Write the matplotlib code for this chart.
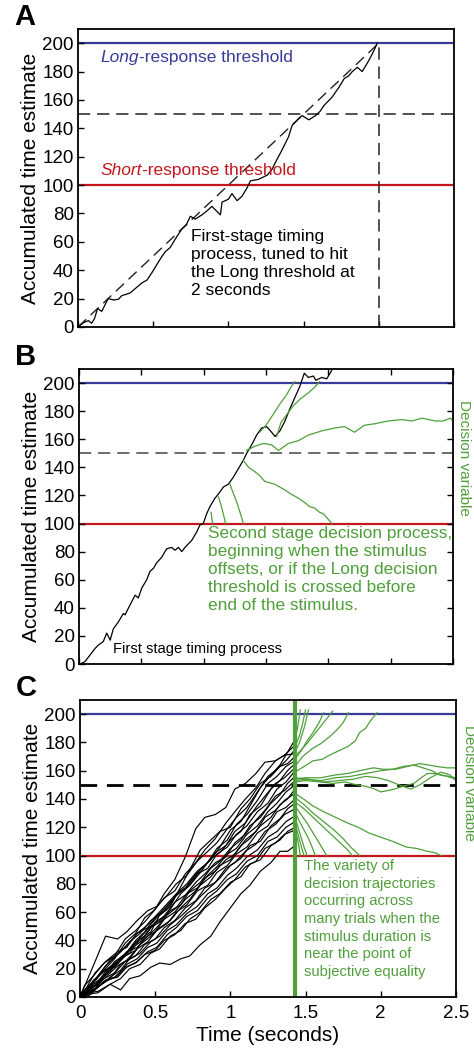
import matplotlib
matplotlib.use("Agg")
import matplotlib.pyplot as plt

plt.rcParams['font.family'] = ['Liberation Sans', 'DejaVu Sans']

BLUE = '#3a3a98'
RED = '#c4161c'
GREEN = '#4f9f3a'

# ---- panel A : first stage timing process
a_t = [0, 0.007, 0.036, 0.069, 0.09, 0.11, 0.13, 0.158, 0.2, 0.24, 0.27, 0.29, 0.31, 0.347,
       0.38, 0.424, 0.458, 0.49, 0.536, 0.56, 0.58, 0.613, 0.647, 0.69, 0.72, 0.747, 0.78,
       0.824, 0.86, 0.89, 0.947, 0.958, 1.0, 1.024, 1.058, 1.09, 1.124, 1.147, 1.2, 1.258,
       1.29, 1.313, 1.358, 1.4, 1.424, 1.46, 1.49, 1.535, 1.58, 1.61, 1.635, 1.69, 1.736,
       1.77, 1.8, 1.824, 1.858, 1.89, 1.935, 1.969, 1.99]
a_y = [0, 0.7, 3, 4.5, 2.6, 6, 13, 11, 20, 19, 19.6, 22, 22.7, 24, 27, 31, 33, 38, 46, 50,
       53, 56, 62, 69, 72, 78, 76, 79, 82, 85, 79, 88, 90, 94, 89, 92, 98, 103, 104, 107,
       111, 116, 125, 134, 142, 146, 149, 146, 149, 152, 156, 162, 169, 175, 177, 180, 183,
       180, 188, 195, 200]

# ---- panel B : first stage plus a few second stage decision processes
b_t = [0.008, 0.048, 0.088, 0.128, 0.155, 0.195, 0.222, 0.25, 0.275, 0.316, 0.356, 0.369,
       0.409, 0.45, 0.476, 0.503, 0.543, 0.57, 0.596, 0.623, 0.663, 0.703, 0.743, 0.77,
       0.797, 0.824, 0.85, 0.904, 0.944, 0.97, 0.997, 1.024, 1.05, 1.09, 1.118, 1.158,
       1.198, 1.238, 1.278, 1.318, 1.345, 1.385, 1.425, 1.465, 1.505, 1.545, 1.572, 1.612,
       1.652, 1.693, 1.733, 1.773, 1.807, 1.84, 1.88, 1.9, 1.947, 1.987, 2.027, 2.05]
b_y = [0, 1.7, 6.4, 11, 13.5, 16, 22, 17, 25, 30, 36, 35, 42, 49, 47, 54, 60, 66, 68, 72,
       76, 82, 83, 81, 83, 80, 83, 88, 94, 99, 100, 107, 112, 118, 121, 126, 128, 133, 139,
       145, 150, 156, 163, 168, 169, 165, 162, 166, 173, 182, 190, 198, 207, 204, 205, 202,
       204, 203, 209, 215]

b_green_t = [
    [1.06, 1.065, 1.072],
    [1.118, 1.14, 1.16, 1.176],
    [1.211, 1.24, 1.27, 1.295, 1.318],
    [1.318, 1.36, 1.41, 1.45, 1.49, 1.53, 1.57, 1.61, 1.65, 1.7, 1.76, 1.81, 1.85, 1.89,
     1.93, 1.96, 2.0, 2.027],
    [1.345, 1.41, 1.48, 1.545, 1.6, 1.68, 1.76, 1.84, 1.95, 2.05, 2.13, 2.21, 2.29, 2.37,
     2.48, 2.59, 2.67, 2.75, 2.86, 2.92, 2.98, 3.0],
    [1.45, 1.5, 1.56, 1.61, 1.66, 1.7, 1.73],
    [1.585, 1.62, 1.67, 1.72, 1.78, 1.84, 1.89, 1.93],
]
b_green_y = [
    [108, 104, 100],
    [119, 113, 106, 100],
    [128, 121, 114, 107, 100],
    [145, 140, 137, 134, 130, 129, 128, 126, 124, 121, 118, 115, 112, 111, 108, 107, 103, 100],
    [152, 155, 157, 156, 152, 157, 159, 163, 166, 168, 169, 165, 170, 171, 173, 174, 173,
     175, 173, 173, 175, 173],
    [165, 170, 178, 185, 191, 197, 201],
    [162, 172, 178, 184, 189, 193, 197, 201],
]

# ---- panel C : many trials, stimulus offset at 1.43 s
offset = 1.43
c_t1 = [0, .06, .12, .2, .27, .33, .4, .47, .53, .6, .67, .73, .8, .87, .93, 1.0, 1.07,
        1.13, 1.2, 1.27, 1.33, 1.38, 1.43]
c_t2 = [0, .03, .09, .16, .23, .3, .37, .43, .5, .56, .63, .7, .77, .83, .9, .97, 1.03,
        1.1, 1.17, 1.23, 1.3, 1.36, 1.43]
c_t3 = [0, .04, .1, .17, .25, .31, .38, .45, .51, .58, .64, .71, .78, .85, .91, .98, 1.04,
        1.11, 1.18, 1.25, 1.31, 1.37, 1.43]
c_black1 = [
    [0, 5, 10, 19, 28, 33, 42, 50, 54, 62, 73, 79, 90, 97, 106, 118, 124, 135, 148, 157, 164, 173, 182],
    [0, 4, 11, 18, 27, 31, 41, 46, 58, 64, 78, 90, 104, 111, 117, 120, 133, 140, 151, 156, 163, 165, 170],
    [0, 7, 15, 26, 32, 39, 45, 54, 59, 67, 75, 79, 88, 98, 102, 111, 117, 129, 135, 147, 153, 160, 165],
    [0, 5, 9, 21, 26, 33, 39, 49, 53, 61, 65, 75, 81, 91, 96, 105, 111, 121, 127, 137, 143, 151, 156],
    [0, 1, 7, 13, 23, 27, 37, 43, 49, 54, 63, 69, 79, 85, 93, 97, 107, 112, 121, 127, 136, 140, 147],
    [0, 4, 7, 14, 19, 27, 31, 39, 43, 51, 57, 63, 71, 78, 84, 93, 98, 107, 110, 121, 126, 133, 137],
    [0, 2, 3, 9, 13, 20, 23, 31, 34, 43, 47, 55, 60, 69, 73, 81, 85, 94, 97, 107, 111, 117, 120],
    [0, 3, 4, 9, 5, 13, 15, 21, 24, 23, 27, 29, 37, 43, 53, 63, 73, 79, 89, 95, 103, 103, 107],
]
c_black2 = [
    [0, 8, 15, 24, 29, 41, 47, 53, 62, 70, 75, 87, 95, 104, 112, 123, 131, 140, 148, 158, 167, 171, 178],
    [0, 3, 10, 19, 27, 38, 45, 56, 62, 73, 83, 99, 119, 127, 129, 134, 147, 151, 158, 166, 167, 171, 172],
    [0, 2, 9, 15, 25, 30, 40, 46, 56, 61, 71, 77, 87, 93, 102, 107, 117, 123, 134, 142, 151, 155, 162],
    [0, 2, 12, 18, 24, 29, 39, 43, 53, 57, 67, 72, 81, 87, 95, 99, 109, 115, 125, 132, 142, 146, 153],
    [0, 5, 11, 19, 21, 29, 33, 42, 46, 55, 60, 69, 75, 84, 89, 97, 101, 111, 117, 127, 132, 139, 144],
    [0, 2, 5, 13, 17, 25, 29, 37, 41, 49, 54, 63, 68, 77, 81, 91, 95, 103, 108, 117, 122, 129, 133],
    [0, 1, 5, 11, 14, 21, 24, 30, 33, 40, 44, 52, 55, 63, 69, 77, 83, 92, 96, 105, 109, 115, 118],
]
c_black3 = [
    [0, 10, 25, 43, 41, 46, 54, 61, 64, 72, 80, 86, 96, 103, 109, 119, 127, 134, 145, 156, 161, 167, 175],
    [0, 6, 12, 22, 30, 36, 45, 51, 58, 66, 73, 80, 89, 95, 105, 111, 122, 129, 139, 151, 156, 163, 167],
    [0, 6, 17, 25, 32, 35, 45, 49, 56, 62, 72, 78, 87, 91, 101, 106, 115, 121, 131, 137, 147, 152, 160],
    [0, 6, 8, 18, 24, 32, 35, 43, 49, 58, 63, 73, 77, 86, 92, 101, 105, 115, 121, 131, 137, 145, 150],
    [0, 3, 8, 14, 22, 26, 34, 39, 47, 52, 60, 65, 75, 79, 88, 93, 101, 106, 116, 121, 131, 134, 140],
    [0, 3, 6, 11, 15, 23, 27, 35, 38, 47, 51, 59, 64, 73, 77, 86, 91, 99, 104, 113, 117, 124, 128],
    [0, 1, 5, 12, 14, 21, 25, 32, 35, 44, 49, 57, 61, 70, 75, 83, 87, 96, 100, 110, 113, 120, 124],
]

c_green_t = [
    [1.43, 1.45, 1.465],
    [1.43, 1.46, 1.48, 1.5],
    [1.43, 1.46, 1.49, 1.52],
    [1.43, 1.47, 1.51, 1.55, 1.59, 1.62],
    [1.43, 1.5, 1.56, 1.62, 1.68],
    [1.43, 1.48, 1.55, 1.6, 1.66, 1.71, 1.75, 1.785],
    [1.43, 1.49, 1.55, 1.61, 1.66, 1.72, 1.78, 1.83, 1.86, 1.9, 1.93, 1.975],
    [1.43, 1.5, 1.6, 1.7, 1.78, 1.86, 1.95, 2.02, 2.1, 2.18, 2.26, 2.32, 2.37, 2.44, 2.5],
    [1.43, 1.5, 1.6, 1.7, 1.8, 1.9, 2.0, 2.08, 2.15, 2.22, 2.28, 2.34, 2.39, 2.45, 2.5],
    [1.43, 1.5, 1.6, 1.68, 1.76, 1.84, 1.9, 1.96, 2.0, 2.05, 2.09, 2.15, 2.22, 2.27, 2.31,
     2.37, 2.44, 2.5],
    [1.43, 1.52, 1.62, 1.72, 1.82, 1.9, 1.98, 2.05, 2.12, 2.2, 2.26, 2.33, 2.4, 2.46, 2.5],
    [1.43, 1.5, 1.55, 1.62, 1.7, 1.78, 1.85, 1.92, 2.0, 2.08, 2.17, 2.24, 2.31, 2.36, 2.4],
    [1.43, 1.49, 1.55, 1.62, 1.69, 1.75, 1.8, 1.86],
    [1.43, 1.49, 1.55, 1.61, 1.66, 1.72, 1.78, 1.81],
    [1.43, 1.47, 1.51, 1.55, 1.59, 1.64],
    [1.43, 1.46, 1.49, 1.52, 1.54, 1.565],
    [1.43, 1.45, 1.47, 1.49, 1.51],
    [1.43, 1.45, 1.47, 1.49],
    [1.43, 1.45, 1.465],
]
c_green_y = [
    [182, 192, 203],
    [177, 185, 193, 203],
    [173, 180, 190, 203],
    [168, 174, 181, 187, 194, 201],
    [170, 178, 186, 194, 202],
    [163, 170, 176, 179, 184, 189, 194, 201],
    [159, 163, 167, 168, 171, 174, 177, 181, 187, 190, 195, 201],
    [154, 155, 155, 157, 158, 160, 162, 161, 161, 163, 165, 164, 163, 162, 162],
    [153, 154, 153, 155, 156, 158, 160, 161, 163, 164, 162, 160, 157, 156, 155],
    [152, 153, 152, 151, 152, 150, 149, 147, 145, 146, 147, 149, 151, 155, 158, 158, 156, 154],
    [155, 154, 152, 153, 154, 156, 155, 153, 150, 147, 150, 155, 159, 157, 153],
    [144, 139, 135, 131, 127, 123, 120, 116, 113, 110, 106, 105, 103, 102, 100],
    [141, 136, 130, 124, 118, 112, 106, 100],
    [138, 133, 127, 121, 116, 110, 104, 100],
    [135, 129, 123, 116, 109, 100],
    [131, 124, 118, 112, 107, 100],
    [127, 120, 113, 106, 100],
    [123, 115, 107, 100],
    [119, 110, 100],
]

fig = plt.figure(figsize=(4.74, 10.51), dpi=100)
axA = fig.add_axes([0.1646, 0.6889, 0.793, 0.2835])
axB = fig.add_axes([0.1667, 0.3682, 0.789, 0.2807])
axC = fig.add_axes([0.1688, 0.0514, 0.793, 0.2826])


def style(ax, xmax, xstep, labels, allsides=False):
    ax.set_xlim(0, xmax)
    ax.set_ylim(0, 210)
    ax.set_yticks(range(0, 201, 20))
    ax.set_xticks([i * xstep for i in range(int(round(xmax / xstep)) + 1)])
    ax.tick_params(direction='in', length=4, width=1, labelsize=13.5,
                   top=allsides, right=allsides, pad=3)
    ax.tick_params(axis='x', pad=6)
    if not labels:
        ax.set_xticklabels([])
    else:
        ax.set_xticklabels(['0', '0.5', '1', '1.5', '2', '2.5'])
    for s in ax.spines.values():
        s.set_linewidth(1.3)
    ax.set_ylabel('Accumulated time estimate', fontsize=15, labelpad=2)
    ax.axhline(200, color=BLUE, lw=1.6, zorder=1)
    ax.axhline(100, color=RED, lw=1.6, zorder=1)


def two_part(ax, x, y, first, rest, color, size):
    t = ax.text(x, y, first, color=color, style='italic', fontsize=size, va='center')
    fig.canvas.draw()
    w = t.get_window_extent().width * 72 / fig.dpi
    ax.annotate(rest, xy=(x, y), xytext=(w, 0), textcoords='offset points',
                color=color, fontsize=size, va='center')


# A
style(axA, 2.5, 0.5, False)
axA.axhline(150, color='#222222', lw=1.1, ls=(0, (8, 4.5)), zorder=1)
axA.plot([2, 2], [0, 200], color='#222222', lw=1.1, ls=(0, (8, 4.5)))
axA.plot([0, 2], [0, 200], color='#222222', lw=1.0, ls=(0, (8, 4.5)))
axA.plot(a_t, a_y, color='black', lw=0.9)
two_part(axA, 0.147, 190, 'Long', '-response threshold', BLUE, 12.5)
two_part(axA, 0.147, 110.5, 'Short', '-response threshold', RED, 12.5)
axA.text(0.753, 69, 'First-stage timing\nprocess, tuned to hit\nthe Long threshold at\n2 seconds',
         fontsize=12.5, va='top', linespacing=1.25)

# B
style(axB, 3.0, 0.5, False, allsides=True)
axB.axhline(150, color='#444444', lw=1.1, ls=(0, (8, 4.5)), zorder=1)
axB.plot(b_t, b_y, color='black', lw=0.9)
for gt, gy in zip(b_green_t, b_green_y):
    axB.plot(gt, gy, color=GREEN, lw=0.9)
axB.text(1.035, 98, 'Second stage decision process,\nbeginning when the stimulus\n'
         'offsets, or if the Long decision\nthreshold is crossed before\n'
         'end of the stimulus.', color=GREEN, fontsize=12.4, va='top', linespacing=1.25)
axB.text(0.27, 10.7, 'First stage timing process', fontsize=10.6, va='center')
axB.text(1.03, 0.70, 'Decision variable', color=GREEN, rotation=-90, fontsize=11,
         transform=axB.transAxes, va='center', ha='center')

# C
style(axC, 2.5, 0.5, True)
axC.axhline(150, color='black', lw=2.0, ls=(0, (6, 3.5)), zorder=1)
for tt, rows in [(c_t1, c_black1), (c_t2, c_black2), (c_t3, c_black3)]:
    for cy in rows:
        axC.plot(tt, cy, color='black', lw=0.85)
for gt, gy in zip(c_green_t, c_green_y):
    axC.plot(gt, gy, color=GREEN, lw=0.9)
axC.axvline(offset, color=GREEN, lw=3)
axC.text(1.49, 97.5, 'The variety of\ndecision trajectories\noccurring across\n'
         'many trials when the\nstimulus duration is\nnear the point of\n'
         'subjective equality', color=GREEN, fontsize=10.6, va='top', linespacing=1.33)
axC.text(1.035, 0.72, 'Decision variable', color=GREEN, rotation=-90, fontsize=11,
         transform=axC.transAxes, va='center', ha='center')
axC.set_xlabel('Time (seconds)', fontsize=15, labelpad=3)

for ax, lab in [(axA, 'A'), (axB, 'B'), (axC, 'C')]:
    ax.text(-0.17, 1.04, lab, transform=ax.transAxes, fontsize=21, fontweight='bold',
            va='center', ha='left')

fig.savefig('out.png', dpi=100)
